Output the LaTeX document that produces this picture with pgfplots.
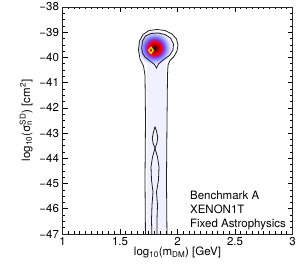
\documentclass[border=0pt]{standalone}
\usepackage{fontspec}
\setmainfont{TeX Gyre Heros}
\usepackage{pgfplots}
\pgfplotsset{compat=1.18}

\definecolor{cA}{HTML}{200000}
\definecolor{cB}{HTML}{700000}
\definecolor{cC}{HTML}{C00000}
\definecolor{cD}{HTML}{FF0000}
\definecolor{cE}{HTML}{A020C0}
\definecolor{cF}{HTML}{7070FF}
\definecolor{cG}{HTML}{A8A8FF}
\definecolor{cH}{HTML}{D6D6FF}
\definecolor{cI}{HTML}{F2F2FF}
\definecolor{stripfill}{HTML}{F0F0FF}
\definecolor{contour}{HTML}{202020}

\pgfdeclareradialshading{blob}{\pgfpoint{0bp}{0bp}}{%
color(0bp)=(cA); color(3bp)=(cB); color(6bp)=(cC); color(9.5bp)=(cD);
color(12.5bp)=(cE); color(15.5bp)=(cF); color(18.8bp)=(cG); color(22bp)=(cH);
color(25bp)=(cI); color(50bp)=(cI)}

\begin{document}
\begin{tikzpicture}
\begin{axis}[
  scale only axis,
  width=230pt, height=227pt,
  xmin=1, xmax=3, ymin=-47, ymax=-38,
  xtick={1,1.5,2,2.5,3},
  xticklabels={1,1.5,2,2.5,3},
  ytick={-47,-46,-45,-44,-43,-42,-41,-40,-39,-38},
  yticklabels={−47,−46,−45,−44,−43,−42,−41,−40,−39,−38},
  minor x tick num=9,
  minor y tick num=3,
  tick align=inside,
  major tick length=5pt,
  minor tick length=2.5pt,
  axis line style={line width=0.8pt, black!85},
  tick style={line width=0.6pt, black},
  font=\fontsize{11.5}{14}\selectfont,
  xlabel={log\textsubscript{10}(m\textsubscript{DM}) [GeV]},
  xlabel style={yshift=6pt},
  ylabel={log\textsubscript{10}(σ\makebox[0pt][l]{\textsubscript{n}}\textsuperscript{SD}) [cm\textsuperscript{2}]},
  axis on top,
]
% light strip
\addplot[draw=none, fill=stripfill, forget plot] coordinates {
(1.7348,-47.3) (1.7348,-40.0) (1.8957,-40.0) (1.8957,-47.3)} -- cycle;
% inner region fill
\addplot[draw=none, fill=cI, forget plot] coordinates {
(1.6887,-39.626) (1.6957,-39.348) (1.7217,-39.150) (1.7696,-39.051)
(1.8304,-39.031) (1.8913,-39.090) (1.9391,-39.229) (1.9652,-39.467)
(1.9609,-39.705) (1.9304,-39.923) (1.8739,-40.102) (1.8348,-40.260)
(1.8174,-40.419) (1.8000,-40.280) (1.7609,-40.141) (1.7174,-39.983)
(1.6957,-39.824)} -- cycle;
% density blob
\addplot[draw=none, shade, shading=blob, forget plot] coordinates {
(1.9478,-39.620) (1.9366,-39.362) (1.9045,-39.143) (1.8566,-38.997)
(1.8000,-38.946) (1.7434,-38.997) (1.6955,-39.143) (1.6634,-39.362)
(1.6522,-39.620) (1.6634,-39.878) (1.6955,-40.097) (1.7434,-40.243)
(1.8000,-40.294) (1.8566,-40.243) (1.9045,-40.097) (1.9366,-39.878)} -- cycle;
% outer contour
\addplot[contour, line width=0.8pt, forget plot] coordinates {
(1.7217,-47.24) (1.7174,-44.86) (1.7217,-42.48) (1.7174,-40.70)
(1.7043,-40.34) (1.6739,-40.06) (1.6609,-39.705) (1.6696,-39.348)
(1.7000,-39.090) (1.7522,-38.932) (1.8217,-38.892) (1.8913,-38.932)
(1.9522,-39.071) (1.9913,-39.269) (2.0043,-39.507) (1.9957,-39.745)
(1.9696,-39.963) (1.9348,-40.121) (1.9174,-40.300) (1.9130,-40.696)
(1.9087,-42.48) (1.9043,-44.86) (1.9087,-47.24)};
% inner blob contour
\addplot[contour, line width=0.8pt, forget plot] coordinates {
(1.6887,-39.626) (1.6957,-39.348) (1.7217,-39.150) (1.7696,-39.051)
(1.8304,-39.031) (1.8913,-39.090) (1.9391,-39.229) (1.9652,-39.467)
(1.9609,-39.705) (1.9304,-39.923) (1.8739,-40.102) (1.8348,-40.260)
(1.8174,-40.419) (1.8000,-40.280) (1.7609,-40.141) (1.7174,-39.983)
(1.6957,-39.824)} -- cycle;
% inner strip contour, left branch
\addplot[contour, line width=0.8pt, forget plot] coordinates {
(1.8043,-42.746) (1.7913,-42.956) (1.7809,-43.194) (1.7870,-43.393)
(1.8043,-43.603) (1.7826,-43.948) (1.7696,-44.344) (1.7739,-44.860)
(1.7870,-45.335) (1.7783,-45.851) (1.7739,-46.446) (1.7783,-47.24)};
% inner strip contour, right branch
\addplot[contour, line width=0.8pt, forget plot] coordinates {
(1.8043,-42.746) (1.8174,-42.917) (1.8278,-43.155) (1.8217,-43.393)
(1.8043,-43.603) (1.8261,-43.948) (1.8391,-44.344) (1.8348,-44.860)
(1.8174,-45.335) (1.8261,-45.851) (1.8217,-46.446) (1.8217,-47.24)};
% best fit
\addplot[only marks, mark=diamond*, mark size=3.1pt,
  mark options={fill=red, draw=yellow, line width=1.1pt}] coordinates {(1.7696,-39.717)};
\node[anchor=north west, align=left, inner sep=0pt,
  font=\fontsize{11.5}{14}\selectfont] at (rel axis cs:0.554,0.19)
  {Benchmark A\\XENON1T\\Fixed Astrophysics};
\end{axis}
\pgfresetboundingbox
\path (current axis.south west) +(-62.5pt,-34pt) (current axis.north east) +(6.5pt,7pt);
\end{tikzpicture}
\end{document}
